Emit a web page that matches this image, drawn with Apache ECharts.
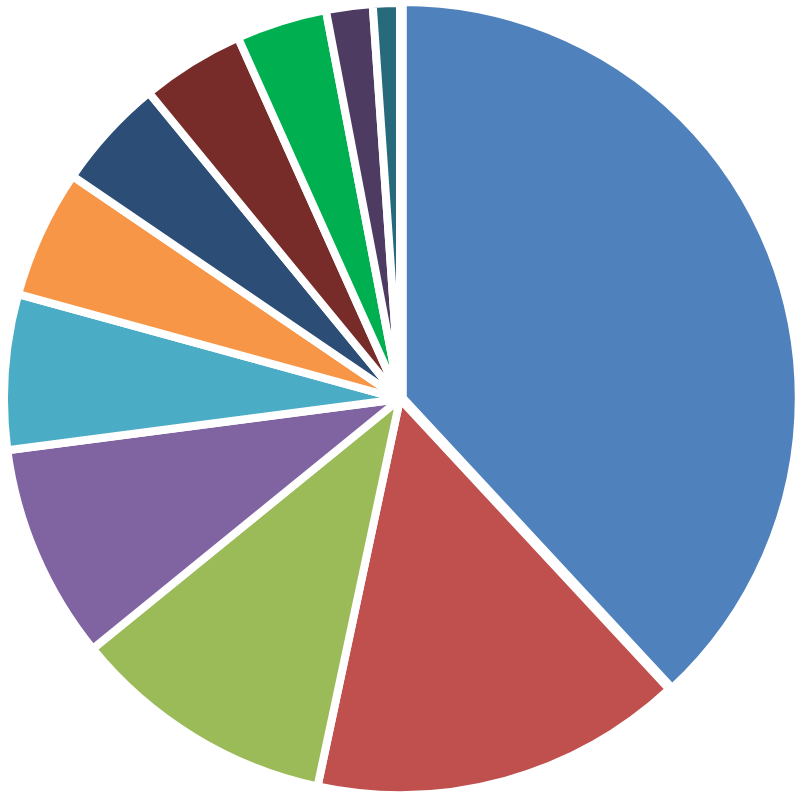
<!DOCTYPE html>
<html>
<head>
<meta charset="utf-8">
<script src="https://cdn.jsdelivr.net/npm/echarts@6/dist/echarts.min.js"></script>
<style>
  html, body { margin: 0; padding: 0; background: #fff; }
  #chart { width: 800px; height: 800px; }
</style>
</head>
<body>
<div id="chart"></div>
<script>
// 切片数据（读图估算，单位：%）
const categories = ['S1', 'S2', 'S3', 'S4', 'S5', 'S6', 'S7', 'S8', 'S9', 'S10', 'S11'];
const values = [38.1, 15.25, 10.8, 8.8, 6.33, 5.25, 4.56, 4.22, 3.71, 1.9, 1.1];
const colors = [
  '#4F81BD', '#C0504D', '#9BBB59', '#8064A2', '#4BACC6', '#F79646',
  '#2C4D75', '#772C2A', '#00B050', '#4D3B62', '#276A7C',
];

const chart = echarts.init(document.getElementById('chart'));

chart.setOption({
  animation: false,
  color: colors,
  series: [{
    type: 'pie',
    center: [400, 399],
    radius: 396,
    startAngle: 90,
    clockwise: true,
    selectedMode: 'single',
    selectedOffset: 3,
    label: { show: false },
    labelLine: { show: false },
    itemStyle: { borderColor: '#fff', borderWidth: 8 },
    data: categories.map((name, i) => ({
      name,
      value: values[i],
      selected: i === 0,
    })),
  }],
});
</script>
</body>
</html>
